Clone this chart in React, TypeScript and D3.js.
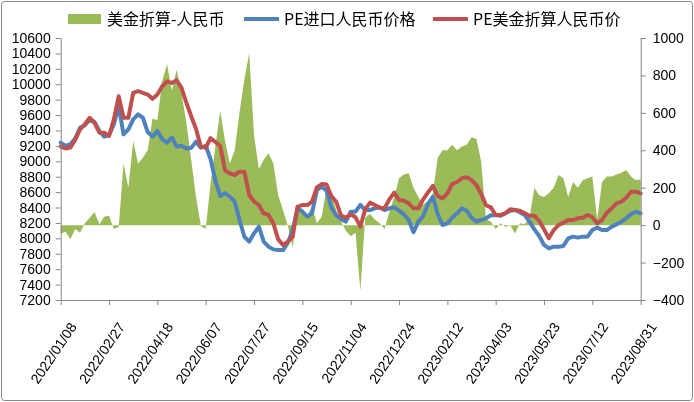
import * as d3 from "d3"
import { useEffect, useRef } from "react"

// dates on a 5-day grid starting 2022/01/08
const firstDate = "2022/01/08"
const stepDays = 5

const tickLabels = [
    "2022/01/08", "2022/02/27", "2022/04/18", "2022/06/07", "2022/07/27",
    "2022/09/15", "2022/11/04", "2022/12/24", "2023/02/12", "2023/04/03",
    "2023/05/23", "2023/07/12", "2023/08/31",
]

const seriesNames = ["美金折算-人民币", "PE进口人民币价格", "PE美金折算人民币价"]

// spread (right axis)
const spread = [
    -45, -35, -75, -20, -40, 10, 40, 70, 5, 45,
    50, -20, -10, 330, 200, 450, 330, 360, 400, 570,
    560, 770, 860, 720, 830, 700, 550, 350, 150, -5,
    -20, 220, 420, 610, 450, 330, 400, 600, 780, 920,
    480, 300, 350, 384, 330, 160, 80, -5, -120, 60,
    90, 50, 100, 10, 45, 200, 170, 80, 20, -30,
    -60, -40, -350, 40, 60, 30, 10, -20, 70, 150,
    250, 270, 277, 200, 150, 110, 130, 170, 360, 400,
    400, 430, 400, 420, 430, 470, 460, 340, 30, 20,
    -20, 10, -10, 0, -45, 10, 5, 40, 200, 160,
    150, 170, 200, 268, 250, 150, 230, 200, 240, 250,
    260, 30, 230, 260, 260, 270, 280, 295, 260, 240,
    245,
]

// PE import price, RMB (left axis)
const importRmb = [
    9243, 9200, 9221, 9295, 9436, 9467, 9544, 9510, 9394, 9320,
    9338, 9480, 9716, 9350, 9415, 9544, 9608, 9565, 9380, 9320,
    9394, 9286, 9243, 9308, 9191, 9200, 9166, 9174, 9254, 9176,
    9202, 9030, 8750, 8550, 8584, 8541, 8476, 8238, 8021, 7957,
    8065, 8151, 7957, 7892, 7857, 7848, 7848, 7944, 8108, 8389,
    8346, 8281, 8324, 8627, 8670, 8620, 8400, 8300, 8247, 8217,
    8346, 8346, 8433, 8368, 8368, 8390, 8402, 8368, 8390, 8402,
    8359, 8312, 8238, 8080, 8217, 8290, 8446, 8540, 8316, 8173,
    8195, 8268, 8325, 8390, 8359, 8268, 8217, 8238, 8260, 8299,
    8303, 8294, 8325, 8359, 8368, 8338, 8303, 8217, 8117, 8031,
    7914, 7870, 7892, 7892, 7901, 8000, 8022, 8009, 8022, 8022,
    8108, 8139, 8108, 8108, 8152, 8182, 8217, 8260, 8316, 8346,
    8325,
]

// PE USD price converted to RMB (left axis)
const usdInRmb = [
    9191, 9166, 9178, 9277, 9415, 9480, 9565, 9500, 9372, 9372,
    9329, 9544, 9845, 9565, 9565, 9888, 9910, 9888, 9866, 9811,
    9866, 9974, 10038, 10017, 10051, 9953, 9759, 9587, 9420, 9190,
    9176, 9300, 9250, 9200, 8880, 8843, 8822, 8865, 8865, 8562,
    8476, 8432, 8324, 8303, 8194, 7987, 7913, 7957, 8022, 8411,
    8432, 8432, 8476, 8662, 8705, 8700, 8550, 8476, 8294, 8268,
    8312, 8273, 8152, 8377, 8463, 8433, 8398, 8390, 8506, 8593,
    8498, 8489, 8454, 8390, 8390, 8506, 8597, 8680, 8550, 8519,
    8584, 8705, 8731, 8779, 8792, 8757, 8692, 8576, 8430, 8402,
    8303, 8303, 8325, 8377, 8368, 8359, 8325, 8294, 8294, 8225,
    8117, 8000, 8108, 8173, 8204, 8238, 8238, 8260, 8268, 8303,
    8273, 8195, 8238, 8333, 8390, 8454, 8476, 8528, 8606, 8606,
    8584,
]

const colors = ["#9BBB59", "#4F81BD", "#C0504D"]

export default function App() {
    const svgRef = useRef<SVGSVGElement>(null)

    useEffect(() => {
        const width = 694
        const height = 402
        const left = 60.7
        const right = 640.7
        const top = 38
        const bottom = 300
        const axisColor = "#868686"
        const tickFont = "'Liberation Sans', Arial, sans-serif"

        const parse = d3.utcParse("%Y/%m/%d")
        const start = parse(firstDate)!
        const dates = spread.map((_, i) => d3.utcDay.offset(start, i * stepDays))
        const tickDates = tickLabels.map(t => parse(t)!)

        const x = d3.scaleUtc([tickDates[0], tickDates[tickDates.length - 1]], [left, right])
        const yLeft = d3.scaleLinear([7200, 10600], [bottom, top])
        const yRight = d3.scaleLinear([-400, 1000], [bottom, top])

        if (svgRef.current !== null) {
            svgRef.current.innerHTML = ""
        }

        const svg = d3.select(svgRef.current)
            .attr("width", width)
            .attr("height", height)
            .attr("viewBox", [0, 0, width, height])

        svg.append("rect")
            .attr("x", 1.5).attr("y", 1.5)
            .attr("width", width - 3).attr("height", height - 3)
            .attr("rx", 3)
            .attr("fill", "#fff")
            .attr("stroke", axisColor)

        // spread area
        svg.append("path")
            .datum(spread)
            .attr("fill", colors[0])
            .attr("d", d3.area<number>()
                .x((_, i) => x(dates[i]))
                .y0(yRight(0))
                .y1(d => yRight(d)))

        const line = d3.line<number>()
            .x((_, i) => x(dates[i]))
            .y(d => yLeft(d))

        ;[importRmb, usdInRmb].forEach((series, k) => {
            svg.append("path")
                .datum(series)
                .attr("fill", "none")
                .attr("stroke", colors[k + 1])
                .attr("stroke-width", 4)
                .attr("stroke-linejoin", "round")
                .attr("stroke-linecap", "round")
                .attr("d", line)
        })

        const styleAxis = (g: d3.Selection<SVGGElement, unknown, null, undefined>) => {
            g.select(".domain").attr("stroke", axisColor)
            g.selectAll(".tick line").attr("stroke", axisColor)
            g.selectAll(".tick text").attr("fill", "#000")
            g.attr("font-family", tickFont).attr("font-size", 14)
        }

        svg.append("g")
            .attr("transform", `translate(${left},0)`)
            .call(d3.axisLeft(yLeft).tickValues(d3.range(7200, 10601, 200)).tickSize(5).tickSizeOuter(0).tickPadding(5).tickFormat(d3.format("d")))
            .call(styleAxis)

        svg.append("g")
            .attr("transform", `translate(${right},0)`)
            .call(d3.axisRight(yRight).tickValues(d3.range(-400, 1001, 200)).tickSize(5).tickSizeOuter(0).tickPadding(7).tickFormat(d3.format("d")))
            .call(styleAxis)

        const xAxis = svg.append("g")
            .attr("transform", `translate(0,${bottom})`)
            .call(d3.axisBottom(x).tickValues(tickDates).tickSize(5).tickSizeOuter(0).tickFormat((_, i) => tickLabels[i]))
            .call(styleAxis)

        xAxis.selectAll<SVGTextElement, Date>(".tick text")
            .attr("text-anchor", "end")
            .attr("x", 0).attr("y", 0).attr("dy", "0.35em")
            .attr("transform", "translate(12,24) rotate(-56)")

        // legend
        const legend = svg.append("g")
            .attr("font-family", "'Noto Sans CJK SC', sans-serif")
            .attr("font-size", 16)
        const legendX = [68, 244, 433]
        seriesNames.forEach((name, k) => {
            const g = legend.append("g").attr("transform", `translate(${legendX[k]},19)`)
            if (k === 0) {
                g.append("rect").attr("x", 0).attr("y", -5).attr("width", 33).attr("height", 10).attr("fill", colors[0])
            } else {
                g.append("line").attr("x1", 0).attr("x2", 35).attr("stroke", colors[k]).attr("stroke-width", 4)
            }
            g.append("text").attr("x", k === 0 ? 39 : 40).attr("dy", "0.35em").text(name)
        })
    }, [])

    return <svg ref={svgRef} style={{ position: "fixed", left: 0, top: 0 }}></svg>
}
